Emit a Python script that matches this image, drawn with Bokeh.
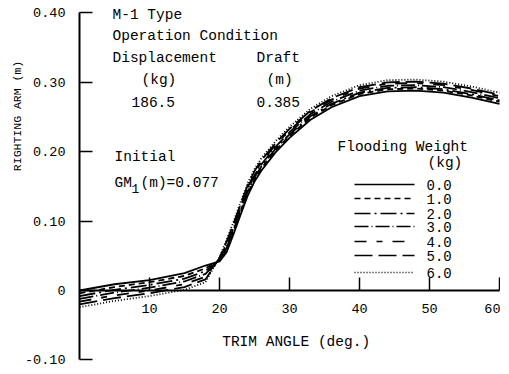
import math
from bokeh.plotting import figure
from bokeh.models import Label, FixedTicker, NumeralTickFormatter
from bokeh.embed import file_html
from bokeh.resources import INLINE

# ---- data ----
trim_angle = [0, 5, 10, 15, 18, 20, 21, 22, 23, 24, 25, 26, 28, 30, 33, 36, 40, 44, 48, 52, 56, 60]
arm_w0 = [0.000, 0.009, 0.015, 0.025, 0.036, 0.042, 0.055, 0.081, 0.109, 0.136, 0.157, 0.173, 0.199, 0.220, 0.246, 0.264, 0.280, 0.287, 0.288, 0.285, 0.278, 0.269]
arm_w1 = [-0.004, 0.005, 0.012, 0.021, 0.032, 0.043, 0.058, 0.084, 0.112, 0.139, 0.160, 0.176, 0.202, 0.223, 0.249, 0.267, 0.283, 0.290, 0.291, 0.288, 0.281, 0.272]
arm_w2 = [-0.008, 0.001, 0.008, 0.017, 0.028, 0.044, 0.061, 0.087, 0.115, 0.142, 0.163, 0.179, 0.204, 0.225, 0.251, 0.269, 0.285, 0.292, 0.293, 0.290, 0.283, 0.274]
arm_w3 = [-0.012, -0.003, 0.004, 0.013, 0.024, 0.045, 0.064, 0.090, 0.118, 0.145, 0.166, 0.182, 0.207, 0.228, 0.254, 0.272, 0.288, 0.295, 0.296, 0.293, 0.286, 0.277]
arm_w4 = [-0.016, -0.007, 0.000, 0.009, 0.020, 0.046, 0.067, 0.093, 0.121, 0.148, 0.169, 0.185, 0.210, 0.231, 0.257, 0.275, 0.291, 0.298, 0.299, 0.296, 0.289, 0.280]
arm_w5 = [-0.020, -0.011, -0.004, 0.005, 0.016, 0.047, 0.070, 0.096, 0.124, 0.151, 0.172, 0.188, 0.212, 0.233, 0.259, 0.277, 0.293, 0.300, 0.301, 0.298, 0.291, 0.282]
arm_w6 = [-0.024, -0.015, -0.008, 0.001, 0.012, 0.048, 0.073, 0.099, 0.127, 0.154, 0.175, 0.191, 0.215, 0.236, 0.262, 0.280, 0.296, 0.303, 0.304, 0.301, 0.294, 0.285]
weight_labels = ["0.0", "1.0", "2.0", "3.0", "4.0", "5.0", "6.0"]
x_ticks = [10, 20, 30, 40, 50, 60]
y_ticks = [-0.10, 0.0, 0.10, 0.20, 0.30, 0.40]

series = [arm_w0, arm_w1, arm_w2, arm_w3, arm_w4, arm_w5, arm_w6]
dashes = ["solid", "6 4", "16 4 2 4", "14 3 1 3", "12 10 6 10", "18 6", "1 2"]

FONT = "Liberation Mono"
W, H = 500, 372
CANVAS_OFFSET = 1              # observed page offset of the canvas
X0_PX, X_SCALE = 80, 7.0       # page px of x=0, px per degree
Y0_PX, Y_SCALE = 291, 694.0    # page px of y=0, px per metre


def px_to_data(px, py):
    return (px - X0_PX) / X_SCALE, (Y0_PX - py) / Y_SCALE


x_lo, y_hi = px_to_data(CANVAS_OFFSET, CANVAS_OFFSET)
x_hi, y_lo = px_to_data(CANVAS_OFFSET + W, CANVAS_OFFSET + H)

p = figure(width=W, height=H, x_range=(x_lo, x_hi), y_range=(y_lo, y_hi),
           output_backend="svg", toolbar_location=None,
           min_border=0, min_border_left=0, min_border_right=0,
           min_border_top=0, min_border_bottom=0)
p.outline_line_color = None
p.xgrid.visible = False
p.ygrid.visible = False
p.background_fill_color = "white"

for ys, d in zip(series, dashes):
    p.line(trim_angle, ys, line_color="black", line_width=1.8, line_dash=d)

xa = p.xaxis[0]
xa.fixed_location = 0
xa.bounds = (0, 60)
xa.ticker = FixedTicker(ticks=x_ticks)
xa.major_tick_in = 13
xa.major_tick_out = 0
xa.minor_tick_line_color = None
xa.axis_line_width = 2
xa.major_tick_line_width = 1.5
xa.major_label_standoff = 13
xa.major_label_text_font = FONT
xa.major_label_text_font_size = "13.5px"
xa.major_label_text_color = "black"

ya = p.yaxis[0]
ya.fixed_location = 0
ya.bounds = (-0.10, 0.40)
ya.ticker = FixedTicker(ticks=y_ticks)
ya.formatter = NumeralTickFormatter(format="0.00")
ya.major_label_overrides = {0: "0"}
ya.major_tick_in = 13
ya.major_tick_out = 0
ya.minor_tick_line_color = None
ya.axis_line_width = 2
ya.major_tick_line_width = 1.5
ya.major_label_standoff = 14
ya.major_label_text_font = FONT
ya.major_label_text_font_size = "13.5px"
ya.major_label_text_color = "black"


def add_text(txt, px, py, size="14.5px", align="left", angle=0.0):
    x, y = px_to_data(px, py)
    p.add_layout(Label(x=x, y=y, text=txt, text_font=FONT, text_font_size=size,
                       text_color="black", text_align=align, text_baseline="middle",
                       angle=angle))


add_text("M-1  Type", 113, 15)
add_text("Operation Condition", 113, 36)
add_text("Displacement", 113, 58)
add_text("Draft", 257, 58)
add_text("(kg)", 142, 80)
add_text("(m)", 267, 80)
add_text("186.5", 132, 102)
add_text("0.385", 257, 102)
add_text("Initial", 115, 157)
add_text("GM", 115, 183)
add_text("1", 132, 189, size="13px")
add_text("(m)=0.077", 141, 183)
add_text("Flooding Weight", 338, 147)
add_text("(kg)", 428, 163)
add_text("TRIM ANGLE  (deg.)", 301, 342, align="center")
add_text("RIGHTING ARM  (m)", 18, 113, size="11.5px", align="center", angle=math.pi / 2)

# legend keys (drawn as short sample lines + labels)
legend_rows_px = [185, 199, 214, 227, 242, 256, 273]
kx0, _ = px_to_data(355, 0)
kx1, _ = px_to_data(415, 0)
for lab, d, ry in zip(weight_labels, dashes, legend_rows_px):
    _, ky = px_to_data(0, ry)
    p.line([kx0, kx1], [ky, ky], line_color="black", line_width=1.6, line_dash=d)
    add_text(lab, 427, ry, size="14px")

open("out.html", "w").write(file_html(p, INLINE))
